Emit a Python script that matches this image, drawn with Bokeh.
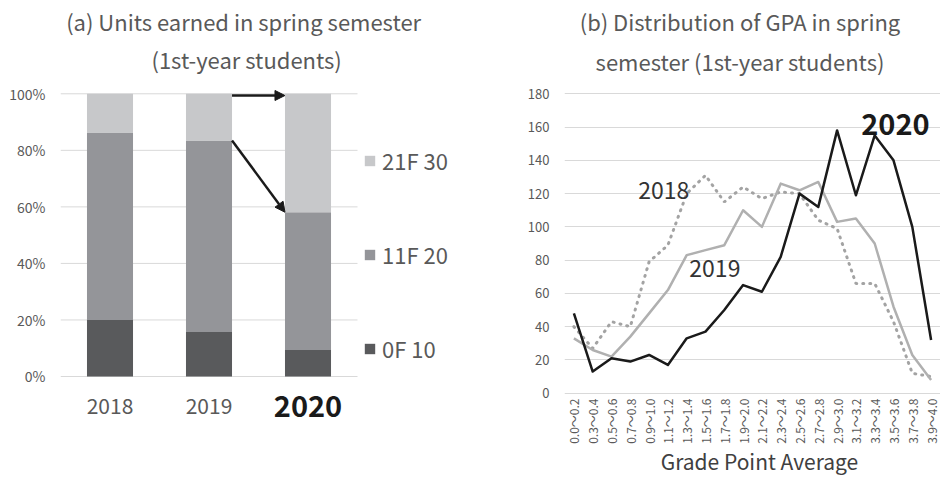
import math
from bokeh.plotting import figure
from bokeh.core.properties import value
from bokeh.models import (FactorRange, Range1d, Label, LabelSet, ColumnDataSource, Legend,
                          LegendItem, Arrow, NormalHead, PrintfTickFormatter, FixedTicker)
from bokeh.layouts import row
from bokeh.embed import file_html
from bokeh.resources import INLINE

FONT = "Noto Sans CJK JP"
TXT = "#595959"
GRID = "#d9d9d9"

# ---------------- data: (a) units earned ----------------
years = ["2018", "2019", "2020"]
units_0_10 = [20.0, 15.7, 9.4]
units_11_20 = [66.3, 67.8, 48.7]
units_21_30 = [13.7, 16.5, 41.9]
unit_labels = ["0F 10", "11F 20", "21F 30"]
pct_ticks = [0, 20, 40, 60, 80, 100]

# ---------------- data: (b) GPA distribution ----------------
gpa_bins = ["0.0〜0.2", "0.3〜0.4", "0.5〜0.6", "0.7〜0.8", "0.9〜1.0", "1.1〜1.2", "1.3〜1.4",
            "1.5〜1.6", "1.7〜1.8", "1.9〜2.0", "2.1〜2.2", "2.3〜2.4", "2.5〜2.6", "2.7〜2.8",
            "2.9〜3.0", "3.1〜3.2", "3.3〜3.4", "3.5〜3.6", "3.7〜3.8", "3.9〜4.0"]
gpa_2018 = [40, 27, 43, 40, 79, 89, 120, 131, 115, 124, 117, 121, 120, 104, 99, 66, 66, 43, 12, 10]
gpa_2019 = [33, 26, 22, 34, 48, 62, 83, 86, 89, 110, 100, 126, 122, 127, 103, 105, 90, 52, 23, 8]
gpa_2020 = [48, 13, 21, 19, 23, 17, 33, 37, 50, 65, 61, 82, 120, 112, 158, 119, 155, 140, 100, 32]
count_ticks = [0, 20, 40, 60, 80, 100, 120, 140, 160, 180]

# =============== left chart ===============
# frame spans the full height; an empty slot on the right holds the legend
p1 = figure(width=478, height=477, x_range=FactorRange(*years, " ", range_padding=0),
            y_range=Range1d(-35.73, 133.0), output_backend="svg", toolbar_location=None,
            min_border_left=60, min_border_right=22, min_border_top=0, min_border_bottom=0)
p1.outline_line_color = None
p1.xaxis.visible = False
p1.xgrid.visible = False
p1.ygrid.visible = False
p1.yaxis.ticker = FixedTicker(ticks=pct_ticks)
p1.yaxis.formatter = PrintfTickFormatter(format="%d%%")
p1.yaxis.axis_line_color = None
p1.yaxis.major_tick_line_color = None
p1.yaxis.minor_tick_line_color = None
p1.yaxis.major_tick_out = 0
p1.yaxis.major_label_standoff = 15
p1.yaxis.major_label_text_font = FONT
p1.yaxis.major_label_text_font_size = "14px"
p1.yaxis.major_label_text_color = TXT

# horizontal gridlines across the bar area only
p1.segment(x0=[0] * len(pct_ticks), x1=[len(years)] * len(pct_ticks), y0=pct_ticks,
           y1=pct_ticks, line_color=GRID, line_width=1)

BW = 0.465
src1 = ColumnDataSource(dict(years=years, u0=units_0_10, u1=units_11_20, u2=units_21_30))
rs = p1.vbar_stack(["u0", "u1", "u2"], x="years", width=BW, source=src1,
                   fill_color=["#595a5c", "#949599", "#c7c8ca"], line_color=None)

legend = Legend(items=[LegendItem(label=unit_labels[2], renderers=[rs[2]]),
                       LegendItem(label=unit_labels[1], renderers=[rs[1]]),
                       LegendItem(label=unit_labels[0], renderers=[rs[0]])],
                location=(303, 113), orientation="vertical", glyph_width=13, glyph_height=13,
                label_height=32, spacing=62, padding=0, margin=0, border_line_color=None,
                background_fill_alpha=0, label_text_font=FONT, label_text_font_size="22px",
                label_text_color=TXT, label_standoff=6)
p1.add_layout(legend)

# arrows between 2019 and 2020 bars
x19_right = 1.5 + BW / 2
x20_left = 2.5 - BW / 2
top19 = units_0_10[1] + units_11_20[1] + units_21_30[1]
top20 = units_0_10[2] + units_11_20[2] + units_21_30[2]
mid19 = units_0_10[1] + units_11_20[1]
mid20 = units_0_10[2] + units_11_20[2]
for ys, ye in [(top19 - 0.6, top20 - 0.6), (mid19, mid20)]:
    p1.add_layout(Arrow(x_start=x19_right, y_start=ys, x_end=x20_left, y_end=ye,
                        line_color="#1a1a1a", line_width=2.5,
                        end=NormalHead(size=10, fill_color="#1a1a1a", line_color="#1a1a1a")))

# category labels
xl_src = ColumnDataSource(dict(x=years, y=[-10.3] * 3, size=["21px", "21px", "29px"],
                               style=["normal", "normal", "bold"],
                               color=[TXT, TXT, "#1a1a1a"]))
p1.add_layout(LabelSet(x="x", y="y", text="x", source=xl_src, text_align="center",
                       text_baseline="middle", text_font=value(FONT), text_font_size="size",
                       text_font_style="style", text_color="color"))

for txt, x, y in [("(a) Units earned in spring semester", 1.85, 125.6),
                  ("(1st-year students)", 1.88, 112.4)]:
    p1.add_layout(Label(x=x, y=y, text=txt, text_align="center", text_baseline="middle",
                        text_font=FONT, text_font_size="22px", text_color=TXT))

# =============== right chart ===============
p2 = figure(width=462, height=477, x_range=FactorRange(*gpa_bins, range_padding=0),
            y_range=Range1d(-50.68, 236.1), output_backend="svg", toolbar_location=None,
            min_border_left=86, min_border_right=0, min_border_top=0, min_border_bottom=0)
p2.outline_line_color = None
p2.xgrid.visible = False
p2.xaxis.visible = False
p2.yaxis.ticker = FixedTicker(ticks=count_ticks)
p2.ygrid.ticker = FixedTicker(ticks=count_ticks)
p2.ygrid.grid_line_color = GRID
p2.yaxis.axis_line_color = None
p2.yaxis.major_tick_line_color = None
p2.yaxis.minor_tick_line_color = None
p2.yaxis.major_tick_out = 0
p2.yaxis.major_label_text_font = FONT
p2.yaxis.major_label_text_color = TXT
p2.yaxis.major_label_standoff = 15
p2.yaxis.major_label_text_font_size = "13px"

# category (x) tick labels, rotated, and the x-axis title
xt_src = ColumnDataSource(dict(x=gpa_bins, y=[-3.2] * len(gpa_bins)))
p2.add_layout(LabelSet(x="x", y="y", text="x", source=xt_src, angle=math.pi / 2,
                       text_align="right", text_baseline="middle", text_font=value(FONT),
                       text_font_size=value("12px"), text_color=TXT))
p2.add_layout(Label(x=10.37, y=-41.0, text="Grade Point Average", text_align="center",
                    text_baseline="middle", text_font=FONT, text_font_size="21px",
                    text_color="#404040"))

p2.line(gpa_bins, gpa_2018, line_color="#a3a3a3", line_width=3, line_dash="1 6",
        line_cap="round")
p2.line(gpa_bins, gpa_2019, line_color="#b0b0b0", line_width=2.5, line_join="round")
p2.line(gpa_bins, gpa_2020, line_color="#1a1a1a", line_width=2.5, line_join="round")

p2.add_layout(Label(x=6.64, y=122, text="2018", text_align="right", text_baseline="middle",
                    text_font=FONT, text_font_size="23px", text_color="#333333"))
p2.add_layout(Label(x=6.64, y=75, text="2019", text_align="left", text_baseline="middle",
                    text_font=FONT, text_font_size="23px", text_color="#333333"))
p2.add_layout(Label(x=17.6, y=161.7, text="2020", text_align="center", text_baseline="middle",
                    text_font=FONT, text_font_size="29px", text_font_style="bold",
                    text_color="#1a1a1a"))

for txt, y in [("(b) Distribution of GPA in spring", 223.5),
               ("semester (1st-year students)", 200)]:
    p2.add_layout(Label(x=9.335, y=y, text=txt, text_align="center", text_baseline="middle",
                        text_font=FONT, text_font_size="22px", text_color=TXT))

layout = row(p1, p2)
open("out.html", "w").write(file_html(layout, INLINE))
